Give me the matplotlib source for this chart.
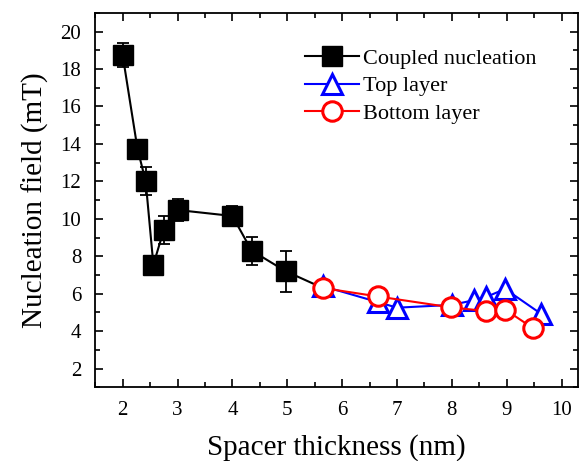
import matplotlib.pyplot as plt
from matplotlib.lines import Line2D
from matplotlib.ticker import MultipleLocator

plt.rcParams['font.family'] = ['Liberation Serif', 'DejaVu Serif']

# coupled nucleation (with error bars); last point joins the single-layer data
coupled_x = [2.0, 2.27, 2.42, 2.56, 2.75, 3.0, 4.0, 4.35, 4.97, 5.65]
coupled_y = [18.75, 13.75, 12.0, 7.55, 9.4, 10.47, 10.15, 8.3, 7.2, 6.3]
coupled_err = [0.65, 0.2, 0.75, 0.25, 0.75, 0.6, 0.55, 0.75, 1.1, 0.0]

top_x = [5.65, 6.65, 7.0, 8.0, 8.4, 8.62, 8.97, 9.62]
top_y = [6.4, 5.55, 5.25, 5.4, 5.65, 5.82, 6.25, 4.93]

bottom_x = [5.65, 6.65, 7.98, 8.62, 8.97, 9.48]
bottom_y = [6.3, 5.85, 5.27, 5.07, 5.15, 4.15]

fig, ax = plt.subplots(figsize=(5.84, 4.61), dpi=100)
fig.subplots_adjust(left=0.163, right=0.99, top=0.972, bottom=0.16)

ax.errorbar(coupled_x[:-1], coupled_y[:-1], yerr=coupled_err[:-1], fmt='none',
            ecolor='black', elinewidth=1.3, capsize=4.5, capthick=1.3, zorder=2)
ax.plot(coupled_x, coupled_y, color='black', lw=1.5, zorder=2)
ax.plot(coupled_x[:-1], coupled_y[:-1], 's', color='black', ms=14.5, zorder=3)
ax.plot(top_x, top_y, '-^', color='blue', lw=1.5, ms=15, mfc='white',
        mew=2.2, zorder=4)
ax.plot(bottom_x, bottom_y, '-o', color='red', lw=1.5, ms=14, mfc='white',
        mew=2.2, zorder=5)

handles = [
    Line2D([], [], color='black', lw=1.5, marker='s', ms=14.5),
    Line2D([], [], color='blue', lw=1.5, marker='^', ms=15, mfc='white', mew=2.2),
    Line2D([], [], color='red', lw=1.5, marker='o', ms=14, mfc='white', mew=2.2),
]
labels = ['Coupled nucleation', 'Top layer', 'Bottom layer']
ax.legend(handles, labels, loc='upper left', bbox_to_anchor=(0.435, 0.906),
          frameon=False, fontsize=16, handlelength=2.4, handletextpad=0.2,
          labelspacing=0.32, borderpad=0, borderaxespad=0)

ax.set_xlim(1.5, 10.3)
ax.set_ylim(1, 21)
ax.set_xticks(range(2, 11))
ax.set_yticks(range(2, 21, 2))
ax.xaxis.set_minor_locator(MultipleLocator(0.5))
ax.yaxis.set_minor_locator(MultipleLocator(1))
ax.tick_params(which='both', direction='in', top=True, right=True, width=1.2)
ax.tick_params(which='major', length=6, labelsize=15, pad=10)
ax.tick_params(which='minor', length=3.5)
for s in ax.spines.values():
    s.set_linewidth(1.3)

ax.set_xlabel('Spacer thickness (nm)', fontsize=21, labelpad=10)
ax.set_ylabel('Nucleation field (mT)', fontsize=21, labelpad=8)

fig.savefig('out.png', dpi=100)
